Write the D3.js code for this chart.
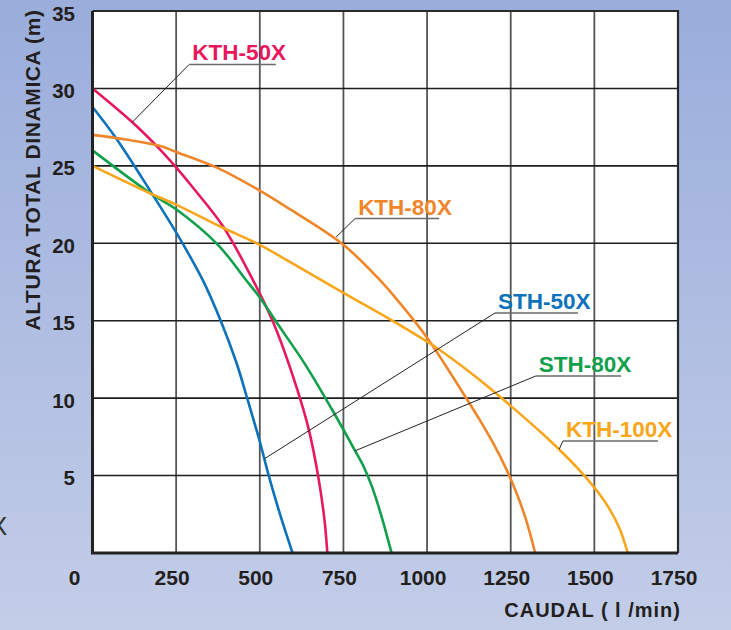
<!DOCTYPE html>
<html lang="es">
<head>
<meta charset="utf-8">
<script src="https://d3js.org/d3.v7.min.js"></script>
<title>Curvas de bombas</title>
<style>
  body { margin: 0; }
  svg { display: block; font-family: "Liberation Sans", Arial, sans-serif; }
</style>
</head>
<body>
<div id="plot"></div>
<script type="text/javascript">
// caudal (l/min) / altura (m)
var kth50x = [[0,30],[120,27.8],[200,26.1],[250,24.9],[300,23.6],[390,21.1],[480,17.6],[540,14.9],[590,12],[645,8.1],[675,4.9],[693,2.2],[702,0]];
var sth50x = [[0,28.8],[70,26.8],[175,23.3],[250,20.7],[330,17.6],[385,14.9],[430,12.3],[465,9.8],[500,7.2],[528,4.9],[562,2.4],[598,0]];
var sth80x = [[0,26],[175,23.2],[250,22.2],[375,19.9],[460,17.6],[500,16.5],[550,14.9],[635,12.2],[715,9.3],[785,6.6],[810,5.6],[835,4.3],[862,2.5],[894,0]];
var kth80x = [[0,27],[100,26.7],[200,26.3],[250,25.9],[370,24.9],[500,23.4],[590,22.2],[750,19.9],[860,17.6],[920,16.1],[1000,13.9],[1120,9.9],[1160,8.5],[1200,7.0],[1235,5.5],[1265,4.0],[1295,2.2],[1323,0]];
var kth100x = [[0,25],[175,23.2],[250,22.5],[380,21.1],[500,19.9],[590,18.8],[750,16.8],[920,14.7],[1025,13.3],[1150,11.3],[1250,9.5],[1350,7.6],[1420,6.15],[1470,5.0],[1510,3.95],[1545,2.85],[1575,1.6],[1600,0]];

var seriesNames = ["KTH-50X", "STH-50X", "STH-80X", "KTH-80X", "KTH-100X"];
var seriesData = [kth50x, sth50x, sth80x, kth80x, kth100x];
var seriesColors = ["#e8185d", "#0b72bb", "#10a04b", "#f0862a", "#f8a61c"];

var xTicks = [0, 250, 500, 750, 1000, 1250, 1500, 1750];
var yTicks = [5, 10, 15, 20, 25, 30, 35];

// label callouts in data units: point on curve, start/end of underline, underline height
var labelAnchor = [[118,27.8],[515,6.1],[785,6.6],[728,20.4],[1395,6.7]];
var labelLine = [[289,548,31.55],[1203,1451,15.5],[1325,1580,11.43],[785,1036,21.6],[1406,1690,7.23]];

var W = 731, H = 630;
var svg = d3.select("#plot").append("svg").attr("width", W).attr("height", H);

var defs = svg.append("defs");
var grad = defs.append("linearGradient").attr("id", "bg").attr("x1", 0).attr("y1", 0).attr("x2", 0).attr("y2", 1);
grad.append("stop").attr("offset", "0%").attr("stop-color", "#9aaddb");
grad.append("stop").attr("offset", "100%").attr("stop-color", "#c3cde8");
svg.append("rect").attr("width", W).attr("height", H).attr("fill", "url(#bg)");

var x = d3.scaleLinear().domain([0, 1750]).range([92.5, 678]);
var y = d3.scaleLinear().domain([0, 35]).range([553, 11]);

// plot area
svg.append("rect")
   .attr("x", x(0)).attr("y", y(35))
   .attr("width", x(1750) - x(0)).attr("height", y(0) - y(35))
   .attr("fill", "#fff");

// grid
svg.append("g").selectAll("line").data(xTicks.slice(1, -1)).enter().append("line")
   .attr("x1", function(d){ return x(d); }).attr("x2", function(d){ return x(d); })
   .attr("y1", y(35)).attr("y2", y(0))
   .attr("stroke", "#555").attr("stroke-width", 1.8);
svg.append("g").selectAll("line").data(yTicks.slice(0, -1)).enter().append("line")
   .attr("y1", function(d){ return y(d); }).attr("y2", function(d){ return y(d); })
   .attr("x1", x(0)).attr("x2", x(1750))
   .attr("stroke", "#1e1e1e").attr("stroke-width", 1.6);

// curves
var line = d3.line()
   .x(function(d){ return x(d[0]); })
   .y(function(d){ return y(d[1]); })
   .curve(d3.curveCatmullRom.alpha(0.5));
svg.append("g").selectAll("path").data(seriesData).enter().append("path")
   .attr("d", line)
   .attr("fill", "none")
   .attr("stroke", function(d, i){ return seriesColors[i]; })
   .attr("stroke-width", 2.6);

// border
svg.append("path")
   .attr("d", "M" + x(0) + "," + y(35) + "H" + x(1750) + "V" + y(0))
   .attr("fill", "none").attr("stroke", "#2a2a2a").attr("stroke-width", 2.2);
svg.append("path")
   .attr("d", "M" + x(0) + "," + y(35) + "V" + y(0) + "H" + x(1750))
   .attr("fill", "none").attr("stroke", "#222").attr("stroke-width", 3);

// callouts
var labels = svg.append("g");
seriesNames.forEach(function(name, i){
    var a = labelAnchor[i], l = labelLine[i];
    labels.append("line")
        .attr("x1", x(a[0])).attr("y1", y(a[1]))
        .attr("x2", x(l[0])).attr("y2", y(l[2]))
        .attr("stroke", "#222").attr("stroke-width", 1);
    labels.append("line")
        .attr("x1", x(l[0])).attr("y1", y(l[2]))
        .attr("x2", x(l[1])).attr("y2", y(l[2]))
        .attr("stroke", "#6a6a6a").attr("stroke-width", 1.6);
    labels.append("text")
        .attr("x", x(l[0]) + 3).attr("y", y(l[2]) - 4)
        .attr("font-size", 22.5).attr("font-weight", "bold")
        .attr("fill", seriesColors[i])
        .text(name);
});

// tick labels
svg.append("g").selectAll("text").data(yTicks).enter().append("text")
   .attr("x", 75).attr("y", function(d){ return y(d) + 9.5; })
   .attr("text-anchor", "end")
   .attr("font-size", 20.5).attr("font-weight", "bold").attr("fill", "#231f20")
   .text(function(d){ return d; });
svg.append("g").selectAll("text").data(xTicks).enter().append("text")
   .attr("x", function(d){ return d === 0 ? x(d) - 18 : x(d) - 4; })
   .attr("y", 585)
   .attr("text-anchor", "middle")
   .attr("font-size", 21).attr("font-weight", "bold").attr("fill", "#231f20")
   .text(function(d){ return d; });

// axis titles
svg.append("text")
   .attr("transform", "translate(40,170) rotate(-90)")
   .attr("text-anchor", "middle")
   .attr("font-size", 21).attr("font-weight", "bold").attr("fill", "#231f20")
   .attr("letter-spacing", 0.6)
   .text("ALTURA TOTAL DINAMICA (m)");
svg.append("text")
   .attr("x", 681).attr("y", 617)
   .attr("text-anchor", "end")
   .attr("font-size", 20).attr("font-weight", "bold").attr("fill", "#231f20")
   .attr("letter-spacing", 1)
   .text("CAUDAL ( l /min)");

// stray glyph cut at the left edge
svg.append("text")
   .attr("x", -10).attr("y", 535)
   .attr("font-size", 26).attr("fill", "#333")
   .text("X");
</script>
</body>
</html>
